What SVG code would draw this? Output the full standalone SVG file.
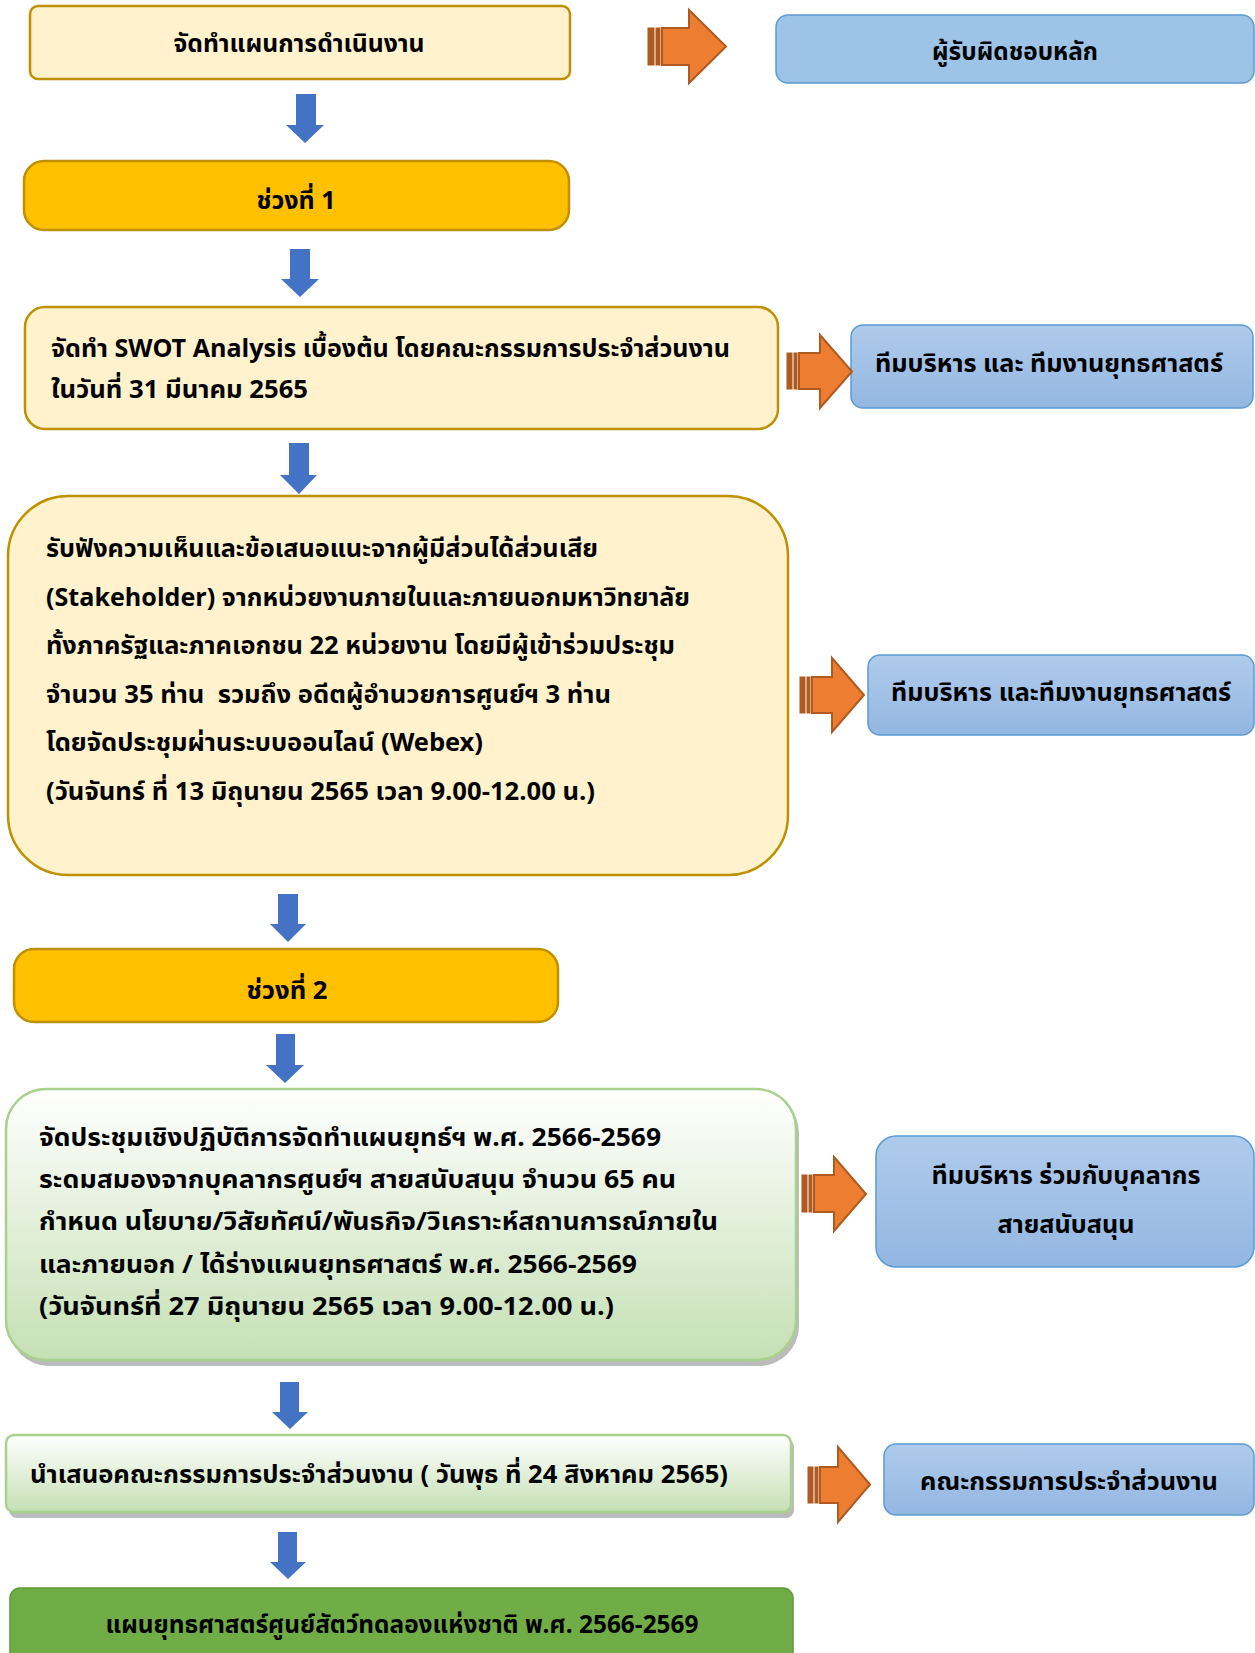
<svg xmlns="http://www.w3.org/2000/svg" width="1255" height="1653" viewBox="0 0 1255 1653">
<style>
text{font-family:"Noto Sans Thai","Leelawadee UI",Tahoma,"Noto Sans","DejaVu Sans",sans-serif;font-size:25px;fill:#000;font-weight:bold}
.c{text-anchor:middle}
.pre{white-space:pre}
.cream{fill:#FFF2CC;stroke:#BF9000;stroke-width:2.5}
.gold{fill:#FFC000;stroke:#BF9000;stroke-width:2.5}
.blue{fill:url(#gb);stroke:#5B9BD5;stroke-width:1.5}
.green{fill:url(#gg);stroke:#A9D18E;stroke-width:2.5}
.dgreen{fill:#70AD47;stroke:#5F9A3A;stroke-width:1.5}
.shadow{fill:#9E9E9E;opacity:0.7}
.oa{fill:#ED7D31;stroke:#AE5A21;stroke-width:2}
.ob{fill:#AE5A21;stroke:#AE5A21;stroke-width:1}
.ba{fill:#4472C4}
</style>
<defs>
<linearGradient id="gb" x1="0" y1="0" x2="0" y2="1"><stop offset="0" stop-color="#AFCBEB"/><stop offset="1" stop-color="#93B7E2"/></linearGradient>
<linearGradient id="gg" x1="0" y1="0" x2="0" y2="1"><stop offset="0" stop-color="#FFFFFF"/><stop offset="1" stop-color="#C5E0B4"/></linearGradient>
</defs>

<g id="n1"><rect class="cream" x="30" y="6" width="540" height="73" rx="8"/><text class="c" x="299" y="52" textLength="251" lengthAdjust="spacingAndGlyphs">จัดทำแผนการดำเนินงาน</text></g>
<g id="r1"><rect x="776" y="15" width="478" height="68" rx="12" fill="#9DC3E6" stroke="#5B9BD5" stroke-width="1.5"/><text class="c" x="1015" y="60" textLength="166" lengthAdjust="spacingAndGlyphs">ผู้รับผิดชอบหลัก</text></g>

<g id="n2"><rect class="gold" x="24" y="161" width="545" height="69" rx="20"/><text class="c" x="296" y="209" textLength="79" lengthAdjust="spacingAndGlyphs">ช่วงที่ 1</text></g>

<g id="n3"><rect class="cream" x="25" y="307" width="753" height="122" rx="20"/>
<text x="51" y="357" textLength="679" lengthAdjust="spacingAndGlyphs">จัดทำ SWOT Analysis เบื้องต้น โดยคณะกรรมการประจำส่วนงาน</text>
<text x="51" y="398" textLength="257" lengthAdjust="spacingAndGlyphs">ในวันที่ 31 มีนาคม 2565</text></g>
<g id="r3"><rect class="blue" x="851" y="325" width="402" height="83" rx="12"/><text class="c" x="1049" y="372" textLength="348" lengthAdjust="spacingAndGlyphs">ทีมบริหาร และ ทีมงานยุทธศาสตร์</text></g>

<g id="n4"><rect class="cream" x="8" y="496" width="780" height="379" rx="60"/>
<text x="46" y="557" textLength="552" lengthAdjust="spacingAndGlyphs">รับฟังความเห็นและข้อเสนอแนะจากผู้มีส่วนได้ส่วนเสีย</text>
<text x="46" y="606" textLength="644" lengthAdjust="spacingAndGlyphs">(Stakeholder) จากหน่วยงานภายในและภายนอกมหาวิทยาลัย</text>
<text x="46" y="654" textLength="629" lengthAdjust="spacingAndGlyphs">ทั้งภาครัฐและภาคเอกชน 22 หน่วยงาน โดยมีผู้เข้าร่วมประชุม</text>
<text class="pre" x="46" y="703" textLength="565" lengthAdjust="spacingAndGlyphs">จำนวน 35 ท่าน  รวมถึง อดีตผู้อำนวยการศูนย์ฯ 3 ท่าน</text>
<text x="46" y="751" textLength="437" lengthAdjust="spacingAndGlyphs">โดยจัดประชุมผ่านระบบออนไลน์ (Webex)</text>
<text x="46" y="800" textLength="549" lengthAdjust="spacingAndGlyphs">(วันจันทร์ ที่ 13 มิถุนายน 2565 เวลา 9.00-12.00 น.)</text></g>
<g id="r4"><rect class="blue" x="868" y="655" width="386" height="80" rx="12"/><text class="c" x="1061" y="701" textLength="340" lengthAdjust="spacingAndGlyphs">ทีมบริหาร และทีมงานยุทธศาสตร์</text></g>

<g id="n5"><rect class="gold" x="14" y="949" width="544" height="73" rx="20"/><text class="c" x="287" y="999" textLength="81" lengthAdjust="spacingAndGlyphs">ช่วงที่ 2</text></g>

<g id="n6"><rect class="shadow" x="9" y="1093" width="790" height="273" rx="40"/><rect class="green" x="6" y="1089" width="790" height="271" rx="40"/>
<text x="39" y="1146" textLength="622" lengthAdjust="spacingAndGlyphs">จัดประชุมเชิงปฏิบัติการจัดทำแผนยุทธ์ฯ พ.ศ. 2566-2569</text>
<text x="39" y="1188" textLength="637" lengthAdjust="spacingAndGlyphs">ระดมสมองจากบุคลากรศูนย์ฯ สายสนับสนุน จำนวน 65 คน</text>
<text x="39" y="1230" textLength="679" lengthAdjust="spacingAndGlyphs">กำหนด นโยบาย/วิสัยทัศน์/พันธกิจ/วิเคราะห์สถานการณ์ภายใน</text>
<text x="39" y="1273" textLength="598" lengthAdjust="spacingAndGlyphs">และภายนอก / ได้ร่างแผนยุทธศาสตร์ พ.ศ. 2566-2569</text>
<text x="39" y="1315" textLength="575" lengthAdjust="spacingAndGlyphs">(วันจันทร์ที่ 27 มิถุนายน 2565 เวลา 9.00-12.00 น.)</text></g>
<g id="r6"><rect class="blue" x="876" y="1136" width="378" height="131" rx="20"/>
<text class="c" x="1066" y="1184" textLength="269" lengthAdjust="spacingAndGlyphs">ทีมบริหาร ร่วมกับบุคลากร</text>
<text class="c" x="1066" y="1233" textLength="137" lengthAdjust="spacingAndGlyphs">สายสนับสนุน</text></g>

<g id="n7"><rect class="shadow" x="9" y="1439" width="785" height="79" rx="8"/><rect class="green" x="6" y="1435" width="785" height="77" rx="8"/>
<text x="30" y="1483" textLength="698" lengthAdjust="spacingAndGlyphs">นำเสนอคณะกรรมการประจำส่วนงาน ( วันพุธ ที่ 24 สิงหาคม 2565)</text></g>
<g id="r7"><rect class="blue" x="884" y="1444" width="370" height="71" rx="12"/><text class="c" x="1069" y="1490" textLength="298" lengthAdjust="spacingAndGlyphs">คณะกรรมการประจำส่วนงาน</text></g>

<g id="n8"><rect class="dgreen" x="10" y="1588" width="783" height="80" rx="10"/><text class="c" x="402" y="1633" textLength="593" lengthAdjust="spacingAndGlyphs">แผนยุทธศาสตร์ศูนย์สัตว์ทดลองแห่งชาติ พ.ศ. 2566-2569</text></g>

<g id="connectors">
<g id="down">
<path class="ba" d="M296 94H316V125H324L305 143L286 125H296Z"/>
<path class="ba" d="M290 249H310V279H319L300 297L281 279H290Z"/>
<path class="ba" d="M289 443H309V475H317L299 494L280 475H289Z"/>
<path class="ba" d="M278 894H298V924H306L288 942L270 924H278Z"/>
<path class="ba" d="M276 1034H295V1065H304L285 1083L266 1065H276Z"/>
<path class="ba" d="M280 1382H299V1412H308L290 1429L272 1412H280Z"/>
<path class="ba" d="M278 1532H297V1562H306L288 1579L270 1562H278Z"/>
</g>
<g id="right">
<rect class="ob" x="648" y="28" width="6" height="37"/><rect class="ob" x="656" y="28" width="4" height="37"/>
<path class="oa" d="M662 28H689V10L726 46.5L689 83V65H662Z"/>
<rect class="ob" x="787" y="353" width="5" height="36"/><rect class="ob" x="794" y="353" width="3" height="36"/>
<path class="oa" d="M799 353H820V335L852 371.5L820 408V389H799Z"/>
<rect class="ob" x="800" y="677" width="5" height="36"/><rect class="ob" x="807" y="677" width="3" height="36"/>
<path class="oa" d="M812 677H832V658L864 695L832 732V713H812Z"/>
<rect class="ob" x="802" y="1175" width="5" height="37"/><rect class="ob" x="809" y="1175" width="3" height="37"/>
<path class="oa" d="M814 1175H834V1157L866 1194L834 1231V1212H814Z"/>
<rect class="ob" x="808" y="1467" width="5" height="36"/><rect class="ob" x="815" y="1467" width="3" height="36"/>
<path class="oa" d="M820 1467H838V1447L870 1484.5L838 1522V1503H820Z"/>
</g>
</g>
</svg>
